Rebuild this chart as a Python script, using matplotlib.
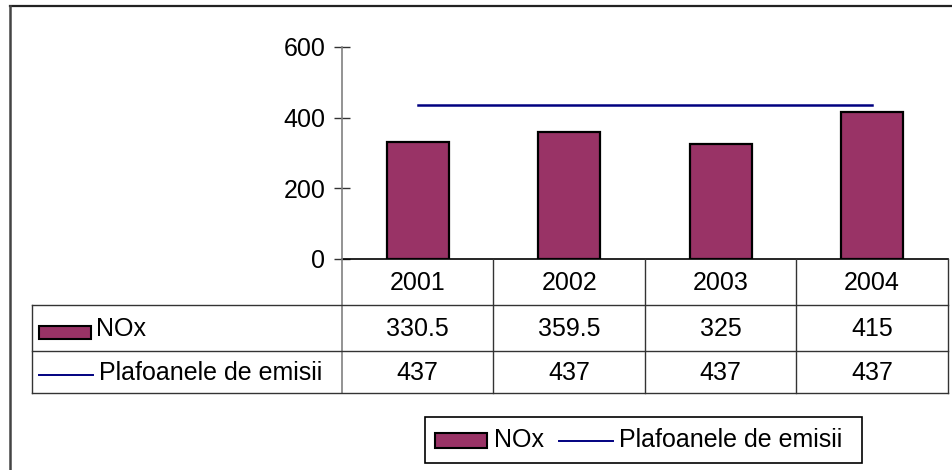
import matplotlib
matplotlib.use("Agg")
import matplotlib.pyplot as plt
from matplotlib.patches import Rectangle
from matplotlib.lines import Line2D

years = ["2001", "2002", "2003", "2004"]
nox = [330.5, 359.5, 325, 415]
plafon = [437, 437, 437, 437]
nox_labels = ["330.5", "359.5", "325", "415"]
plafon_labels = ["437", "437", "437", "437"]
series_names = ["NOx", "Plafoanele de emisii"]
yticks = [0, 200, 400, 600]

W, H = 953, 470
plt.rcParams['font.family'] = ['Liberation Sans', 'DejaVu Sans']
fig = plt.figure(figsize=(W / 100, H / 100), dpi=100)

bar_color = "#993366"
line_color = "#000080"
FS = 18

# main plot axes (pixel geometry)
ax_l, ax_r, ax_t, ax_b = 342, 947.7, 47, 259
ax = fig.add_axes([ax_l / W, 1 - ax_b / H, (ax_r - ax_l) / W, (ax_b - ax_t) / H])
x = list(range(len(years)))
ax.bar(x, nox, width=0.41, color=bar_color, edgecolor="black", linewidth=1.6, zorder=3)
ax.plot(x, plafon, color=line_color, linewidth=1.8, zorder=4)
ax.set_xlim(-0.5, len(years) - 0.5)
ax.set_ylim(0, 600)
ax.set_yticks(yticks)
ax.set_yticklabels([str(v) for v in yticks], fontsize=FS)
ax.set_xticks([])
for s in ["top", "right"]:
    ax.spines[s].set_visible(False)
ax.spines["left"].set_visible(False)
ax.spines["bottom"].set_color("black")
ax.spines["bottom"].set_linewidth(1.2)
ax.tick_params(axis="y", direction="inout", length=12, width=1, color="#333333", pad=6)
ax.patch.set_alpha(0)

# overlay axes in pixel coordinates for frame, table, legend
ov = fig.add_axes([0, 0, 1, 1])
ov.set_xlim(0, W)
ov.set_ylim(H, 0)
ov.axis("off")
ov.patch.set_alpha(0)

def hline(x0, x1, y, c="#333333", lw=1.0):
    ov.add_line(Line2D([x0, x1], [y, y], color=c, linewidth=lw))

def vline(x0, y0, y1, c="#333333", lw=1.0):
    ov.add_line(Line2D([x0, x0], [y0, y1], color=c, linewidth=lw))

# outer frame
hline(10, W, 5.5, c="#222222", lw=1.6)
vline(10, 5.5, H, c="#444444", lw=1.8)

# table geometry
tbl_l = 31.7
row_y = [259, 305, 350.7, 393.3]
colw = (ax_r - ax_l) / len(years)
col_x = [ax_l + i * colw for i in range(len(years) + 1)]

# y-axis line continuing into the table
vline(ax_l, ax_t, row_y[-1], c="#808080", lw=1.2)
for yy in row_y[1:]:
    hline(tbl_l, ax_r, yy)
vline(tbl_l, row_y[1], row_y[-1])
for cx in col_x[1:]:
    vline(cx, row_y[0], row_y[-1])

# table text
for i, yr in enumerate(years):
    cx = (col_x[i] + col_x[i + 1]) / 2
    ov.text(cx, (row_y[0] + row_y[1]) / 2 + 1, yr, ha="center", va="center", fontsize=FS)
    ov.text(cx, (row_y[1] + row_y[2]) / 2 + 1, nox_labels[i], ha="center", va="center", fontsize=FS)
    ov.text(cx, (row_y[2] + row_y[3]) / 2 + 1, plafon_labels[i], ha="center", va="center", fontsize=FS)

# table row keys
ov.add_patch(Rectangle((39.5, 326), 52, 13, facecolor=bar_color, edgecolor="black", linewidth=1.5))
ov.text(96, 329, series_names[0], ha="left", va="center", fontsize=FS)
ov.add_line(Line2D([39.5, 93], [375, 375], color=line_color, linewidth=1.4))
ov.text(99, 373, series_names[1], ha="left", va="center", fontsize=FS)

# bottom legend
ov.add_patch(Rectangle((425, 416.7), 437, 46.6, facecolor="white", edgecolor="black", linewidth=1.2))
ov.add_patch(Rectangle((435.5, 433), 52, 14.5, facecolor=bar_color, edgecolor="black", linewidth=1.5))
ov.text(494, 440, series_names[0], ha="left", va="center", fontsize=FS)
ov.add_line(Line2D([559, 613], [440.5, 440.5], color=line_color, linewidth=1.4))
ov.text(619, 440, series_names[1], ha="left", va="center", fontsize=FS)

fig.savefig("out.png", dpi=100)
